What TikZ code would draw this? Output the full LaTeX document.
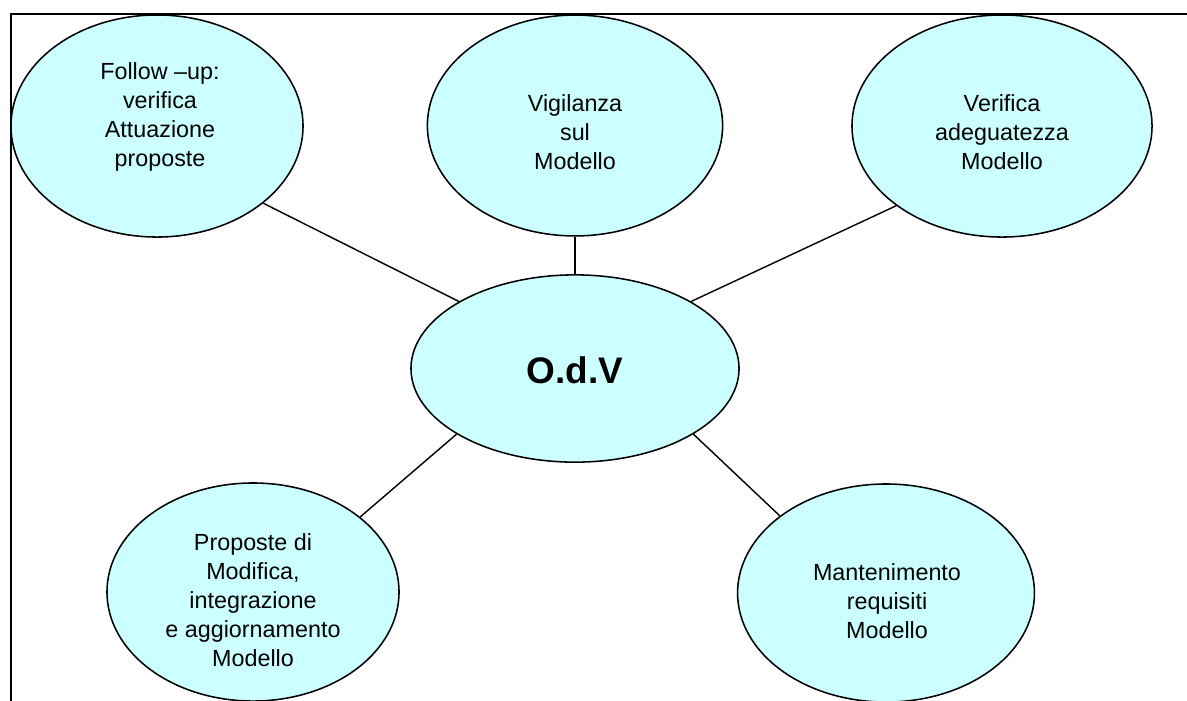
\documentclass[tikz,border=0pt]{standalone}
\usepackage{fontspec}
\setmainfont{Liberation Sans}
\usetikzlibrary{shapes.geometric}
\definecolor{bubblecyan}{HTML}{CCFFFF}

\begin{document}
\begin{tikzpicture}[x=0.025cm,y=-0.025cm,
                    bubble/.style={ellipse,draw,line width=1.1pt,fill=bubblecyan,inner sep=0pt},
                    bubble text/.style={align=center,font=\fontsize{16.6}{20.6}\selectfont},
                    spoke/.style={line width=1pt}]
  \useasboundingbox (0,0) rectangle (1187,700);
  \draw[line width=1.4pt] (11,705) -- (11,14) -- (1192,14);

  \node[bubble,minimum width=7.3cm,minimum height=5.55cm] (follow) at (157,126) {};
  \node[bubble,minimum width=7.38cm,minimum height=5.52cm] (vigil) at (575,125.5) {};
  \node[bubble,minimum width=7.5cm,minimum height=5.55cm] (verif) at (1002,126) {};
  \node[bubble,minimum width=8.2cm,minimum height=4.68cm] (odv) at (575,368.5) {};
  \node[bubble,minimum width=7.3cm,minimum height=5.45cm] (propo) at (253,592) {};
  \node[bubble,minimum width=7.42cm,minimum height=5.45cm] (mante) at (886,593) {};

  \node[bubble text] (followtxt) at (160,117) {Follow –up:\\verifica\\Attuazione\\proposte};
  \node[bubble text] (vigiltxt) at (575,132) {Vigilanza\\sul\\Modello};
  \node[bubble text] (veriftxt) at (1002,132) {Verifica\\adeguatezza\\Modello};
  \node[font=\fontsize{26.3}{30}\selectfont\bfseries] (odvtxt) at (575,370) {O.d.V};
  \node[bubble text] (propotxt) at (253,600) {Proposte di\\Modifica,\\integrazione\\e aggiornamento\\Modello};
  \node[bubble text] (mantetxt) at (887,601) {Mantenimento\\requisiti\\Modello};

  \path[spoke]
    (follow.-36) edge (odv.150)
    (vigil.-90) edge (odv.90)
    (verif.217) edge (odv.30)
    (propo.35.5) edge (odv.209.6)
    (mante.144) edge (odv.-29.2);
\end{tikzpicture}
\end{document}
